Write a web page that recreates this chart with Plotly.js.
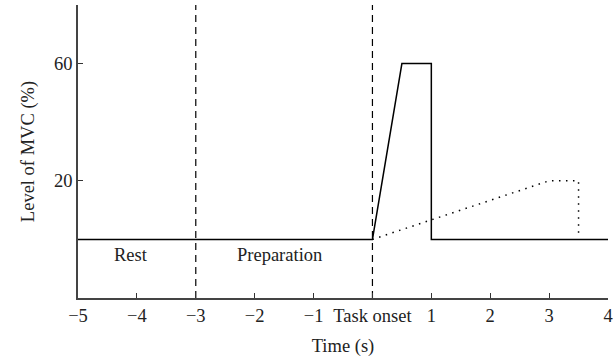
<!DOCTYPE html>
<html>
<head>
<meta charset="utf-8">
<script src="https://cdn.plot.ly/plotly-3.0.1.min.js"></script>
<style>html,body{margin:0;padding:0;background:#fff;}#chart{width:616px;height:362px;}</style>
</head>
<body>
<div id="chart"></div>
<script>
// Solid line: strong contraction profile
const solidX = [-5, 0, 0.5, 1, 1, 4];
const solidY = [0, 0, 60, 60, 0, 0];
// Dotted line: slow ramp profile
const dottedX = [0, 3, 3.5, 3.5];
const dottedY = [0, 20, 20, 1];
// Phase boundaries (dashed verticals)
const boundaries = [-3, 0];
const yRange = [-20, 80];
// Phase labels
const phaseLabels = ["Rest", "Preparation"];
const phaseLabelX = [-4.1, -1.58];
const phaseLabelY = [-5.3, -5.3];
// Ticks
const xTickVals = [-5, -4, -3, -2, -1, 0, 1, 2, 3, 4];
const xTickText = ["\u22125", "\u22124", "\u22123", "\u22122", "\u22121", "Task onset", "1", "2", "3", "4"];
const yTickVals = [20, 60];
const yTickText = ["20", "60"];

const traces = [];
boundaries.forEach(b => {
  traces.push({x: [b, b], y: yRange, mode: 'lines', line: {color: '#000', width: 1.2, dash: '7px,5px'}, hoverinfo: 'skip', showlegend: false});
});
traces.push({x: solidX, y: solidY, mode: 'lines', line: {color: '#000', width: 1.5}, showlegend: false});
traces.push({x: dottedX, y: dottedY, mode: 'lines', line: {color: '#000', width: 1.5, dash: '1.5px,5.5px'}, showlegend: false});

const font = {family: '"Liberation Serif", "Times New Roman", serif', size: 18.5, color: '#222'};

const layout = {
  width: 616, height: 362,
  margin: {l: 78, r: 8, t: 5, b: 64},
  paper_bgcolor: '#fff', plot_bgcolor: '#fff',
  font: font,
  xaxis: {
    range: [-5, 4], tickvals: xTickVals, ticktext: xTickText,
    ticks: 'inside', ticklen: 5, tickwidth: 1.2, tickcolor: '#333',
    showline: true, linecolor: '#444', linewidth: 1.8, showgrid: false, zeroline: false,
    tickfont: font, title: {text: 'Time (s)', font: font, standoff: 14}
  },
  yaxis: {
    range: yRange, tickvals: yTickVals, ticktext: yTickText,
    ticks: 'inside', ticklen: 5, tickwidth: 1.2, tickcolor: '#333',
    showline: true, linecolor: '#444', linewidth: 1.8, showgrid: false, zeroline: false,
    tickfont: font, title: {text: 'Level of MVC (%)', font: font, standoff: 14}
  },
  annotations: phaseLabels.map((t, i) => ({x: phaseLabelX[i], y: phaseLabelY[i], text: t, showarrow: false, font: font, xanchor: 'center', yanchor: 'middle'}))
};

Plotly.newPlot('chart', traces, layout, {displayModeBar: false, staticPlot: true});
</script>
</body>
</html>
